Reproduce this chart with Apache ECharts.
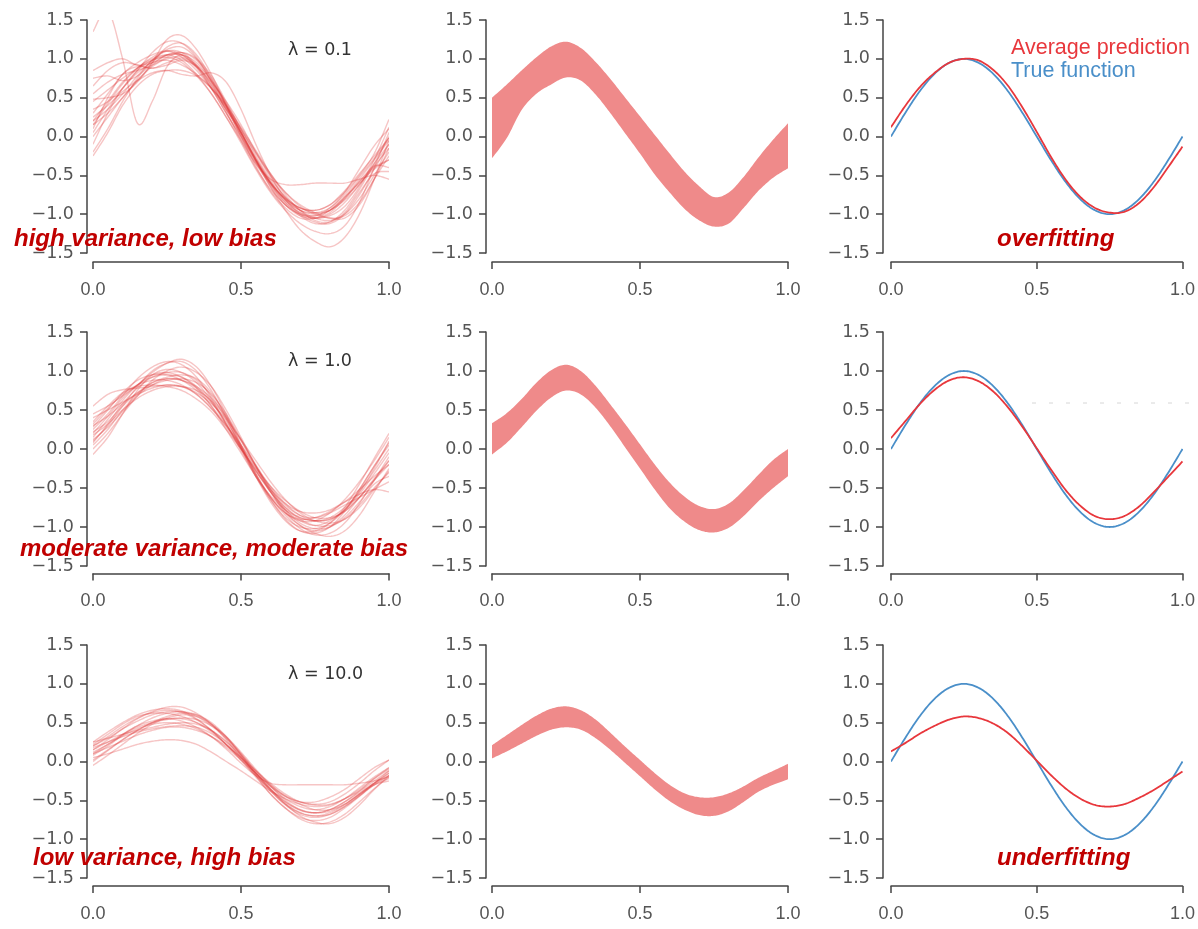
<!DOCTYPE html>
<html>
<head>
<meta charset="utf-8">
<script src="https://cdn.jsdelivr.net/npm/echarts@6/dist/echarts.min.js"></script>
<style>
  html, body { margin: 0; padding: 0; background: #fff; }
  #chart { width: 1198px; height: 929px; }
</style>
</head>
<body>
<div id="chart"></div>
<script>
// Sample positions along x (shared by every panel)
const xs = [0.00,0.05,0.10,0.15,0.20,0.25,0.30,0.35,0.40,0.45,0.50,
            0.55,0.60,0.65,0.70,0.75,0.80,0.85,0.90,0.95,1.00];
const xTickLabels = ['0.0', '0.5', '1.0'];
const yTickLabels = ['−1.5', '−1.0', '−0.5', '0.0', '0.5', '1.0', '1.5'];
const lambdaLabels = ['λ = 0.1', 'λ = 1.0', 'λ = 10.0'];
const rowNotes = ['high variance, low bias', 'moderate variance, moderate bias', 'low variance, high bias'];

// Individual fitted curves, lambda = 0.1
const fitsLambda01 = [
  [0.20,0.45,0.70,0.88,1.02,1.10,1.05,0.88,0.62,0.30,-0.02,-0.35,-0.62,-0.85,-0.98,-1.02,-0.95,-0.78,-0.55,-0.30,-0.05],
  [1.35,1.62,1.00,0.17,0.45,0.90,1.05,0.90,0.62,0.30,0.00,-0.32,-0.60,-0.82,-0.95,-0.98,-0.92,-0.75,-0.52,-0.28,-0.02],
  [0.85,0.95,1.00,0.92,0.95,1.05,1.05,0.90,0.65,0.35,0.05,-0.28,-0.58,-0.82,-0.98,-1.05,-1.00,-0.85,-0.62,-0.35,-0.10],
  [0.75,0.78,0.72,0.78,0.95,1.15,1.20,1.05,0.75,0.40,0.05,-0.30,-0.60,-0.80,-0.92,-0.95,-0.88,-0.70,-0.48,-0.25,-0.02],
  [0.65,0.85,0.95,0.92,0.88,0.95,1.00,0.90,0.70,0.45,0.15,-0.20,-0.52,-0.78,-0.95,-1.05,-1.08,-1.00,-0.80,-0.50,-0.20],
  [0.48,0.50,0.55,0.70,0.95,1.25,1.30,1.12,0.80,0.40,0.00,-0.38,-0.70,-0.92,-1.05,-1.05,-0.95,-0.78,-0.60,-0.42,-0.30],
  [0.30,0.55,0.80,0.95,1.05,1.10,1.02,0.85,0.62,0.35,0.08,-0.22,-0.50,-0.72,-0.88,-0.98,-1.05,-1.05,-0.88,-0.55,-0.15],
  [0.20,0.35,0.55,0.78,0.98,1.12,1.15,1.00,0.70,0.32,-0.05,-0.40,-0.68,-0.88,-1.00,-1.05,-1.02,-0.90,-0.65,-0.30,0.12],
  [0.10,0.50,0.80,0.90,0.88,0.92,0.98,0.90,0.68,0.38,0.05,-0.28,-0.58,-0.82,-1.00,-1.10,-1.12,-1.00,-0.75,-0.42,-0.10],
  [0.00,0.25,0.50,0.72,0.90,1.00,1.02,0.92,0.72,0.42,0.10,-0.25,-0.55,-0.78,-0.92,-0.98,-0.95,-0.82,-0.62,-0.38,-0.15],
  [-0.10,0.30,0.62,0.85,0.98,1.02,0.95,0.78,0.55,0.25,-0.08,-0.42,-0.72,-0.95,-1.12,-1.22,-1.25,-1.15,-0.85,-0.40,0.05],
  [-0.20,0.10,0.45,0.75,0.98,1.10,1.08,0.92,0.66,0.35,0.02,-0.30,-0.60,-0.85,-1.02,-1.12,-1.10,-0.95,-0.68,-0.35,0.00],
  [-0.25,0.05,0.40,0.65,0.80,0.85,0.85,0.78,0.62,0.38,0.10,-0.20,-0.48,-0.72,-0.90,-1.00,-1.05,-1.02,-0.85,-0.55,-0.25],
  [0.25,0.40,0.58,0.72,0.82,0.85,0.80,0.78,0.82,0.70,0.35,-0.10,-0.50,-0.80,-0.95,-1.00,-0.95,-0.80,-0.58,-0.38,-0.40],
  [0.45,0.60,0.75,0.88,0.98,1.05,1.05,0.95,0.72,0.40,0.05,-0.30,-0.65,-0.95,-1.20,-1.35,-1.42,-1.30,-1.00,-0.55,-0.05],
  [0.15,0.42,0.68,0.88,1.00,1.05,0.98,0.80,0.55,0.25,-0.05,-0.35,-0.55,-0.62,-0.62,-0.60,-0.60,-0.60,-0.55,-0.50,-0.55],
  [0.35,0.45,0.62,0.85,1.08,1.22,1.20,1.02,0.72,0.38,0.02,-0.32,-0.60,-0.80,-0.92,-0.95,-0.88,-0.72,-0.50,-0.22,0.22],
  [0.05,0.35,0.62,0.82,0.95,0.98,0.92,0.80,0.62,0.40,0.12,-0.18,-0.48,-0.75,-0.95,-1.08,-1.10,-0.98,-0.72,-0.48,-0.45],
  [0.55,0.70,0.80,0.85,0.92,1.02,1.08,1.00,0.78,0.45,0.08,-0.30,-0.62,-0.88,-1.02,-1.05,-0.98,-0.80,-0.58,-0.40,-0.30],
  [0.15,0.30,0.50,0.72,0.92,1.05,1.08,0.98,0.75,0.42,0.05,-0.32,-0.65,-0.88,-1.00,-1.02,-0.92,-0.72,-0.42,-0.12,0.10]
];

// Individual fitted curves, lambda = 1.0
const fitsLambda1 = [
  [0.55,0.70,0.76,0.78,0.80,0.82,0.80,0.70,0.52,0.28,0.00,-0.28,-0.52,-0.70,-0.80,-0.82,-0.78,-0.68,-0.58,-0.52,-0.55],
  [0.35,0.55,0.72,0.80,0.82,0.80,0.75,0.64,0.48,0.25,0.00,-0.25,-0.48,-0.66,-0.80,-0.88,-0.88,-0.80,-0.62,-0.40,-0.15],
  [0.25,0.45,0.68,0.90,1.05,1.12,1.08,0.92,0.65,0.32,-0.02,-0.35,-0.62,-0.82,-0.92,-0.92,-0.82,-0.65,-0.42,-0.15,0.15],
  [0.10,0.30,0.55,0.80,1.00,1.10,1.12,1.00,0.75,0.40,0.02,-0.35,-0.65,-0.88,-1.00,-1.02,-0.95,-0.78,-0.52,-0.22,0.05],
  [0.20,0.42,0.65,0.82,0.92,0.95,0.92,0.80,0.60,0.32,0.02,-0.28,-0.55,-0.75,-0.88,-0.92,-0.90,-0.80,-0.62,-0.40,-0.20],
  [-0.07,0.15,0.45,0.75,0.95,1.02,0.98,0.85,0.62,0.32,0.00,-0.32,-0.62,-0.85,-1.02,-1.10,-1.08,-0.95,-0.70,-0.40,-0.10],
  [0.30,0.42,0.58,0.72,0.82,0.88,0.90,0.85,0.70,0.45,0.12,-0.22,-0.52,-0.75,-0.90,-0.98,-0.98,-0.90,-0.72,-0.50,-0.30],
  [0.15,0.38,0.62,0.82,0.95,0.98,0.92,0.78,0.55,0.25,-0.05,-0.35,-0.60,-0.78,-0.88,-0.92,-0.88,-0.75,-0.55,-0.28,0.00],
  [0.05,0.25,0.50,0.70,0.85,0.90,0.88,0.78,0.60,0.35,0.05,-0.25,-0.55,-0.80,-0.98,-1.08,-1.12,-1.05,-0.85,-0.55,-0.25],
  [0.40,0.50,0.60,0.70,0.78,0.82,0.80,0.72,0.58,0.38,0.12,-0.15,-0.42,-0.65,-0.82,-0.92,-0.95,-0.90,-0.75,-0.52,-0.28],
  [0.28,0.50,0.72,0.88,0.95,0.95,0.88,0.75,0.55,0.30,0.02,-0.28,-0.55,-0.78,-0.92,-0.98,-0.92,-0.78,-0.55,-0.25,0.10],
  [0.00,0.20,0.45,0.68,0.88,1.00,1.05,0.98,0.80,0.50,0.15,-0.22,-0.55,-0.82,-0.98,-1.05,-1.00,-0.85,-0.62,-0.38,-0.15],
  [0.12,0.28,0.48,0.68,0.82,0.90,0.88,0.80,0.65,0.42,0.12,-0.20,-0.50,-0.72,-0.85,-0.88,-0.82,-0.72,-0.62,-0.52,-0.42],
  [0.22,0.35,0.55,0.72,0.85,0.92,0.95,0.90,0.72,0.42,0.05,-0.32,-0.65,-0.90,-1.05,-1.08,-1.00,-0.80,-0.52,-0.22,0.08],
  [0.32,0.52,0.70,0.82,0.88,0.88,0.82,0.70,0.52,0.30,0.05,-0.22,-0.48,-0.70,-0.85,-0.92,-0.90,-0.78,-0.58,-0.32,-0.05],
  [0.45,0.55,0.68,0.82,0.98,1.10,1.15,1.05,0.80,0.45,0.05,-0.32,-0.62,-0.82,-0.90,-0.88,-0.80,-0.68,-0.52,-0.35,-0.20],
  [0.18,0.32,0.50,0.65,0.75,0.80,0.80,0.75,0.62,0.40,0.10,-0.22,-0.52,-0.78,-0.95,-1.02,-1.00,-0.88,-0.68,-0.45,-0.35],
  [0.08,0.32,0.58,0.78,0.92,0.98,0.98,0.88,0.68,0.38,0.02,-0.35,-0.68,-0.92,-1.05,-1.05,-0.95,-0.75,-0.45,-0.12,0.20]
];

// Individual fitted curves, lambda = 10.0
const fitsLambda10 = [
  [0.25,0.38,0.50,0.60,0.66,0.68,0.65,0.55,0.40,0.22,0.02,-0.18,-0.36,-0.52,-0.62,-0.66,-0.62,-0.52,-0.38,-0.22,-0.08],
  [0.20,0.32,0.45,0.56,0.64,0.70,0.70,0.62,0.48,0.28,0.05,-0.18,-0.38,-0.55,-0.66,-0.70,-0.66,-0.56,-0.42,-0.28,-0.15],
  [0.05,0.10,0.16,0.22,0.26,0.28,0.27,0.22,0.12,0.00,-0.12,-0.25,-0.38,-0.48,-0.55,-0.58,-0.56,-0.48,-0.38,-0.25,-0.12],
  [0.10,0.22,0.35,0.46,0.52,0.55,0.52,0.44,0.32,0.16,-0.02,-0.18,-0.28,-0.30,-0.30,-0.30,-0.30,-0.30,-0.28,-0.25,-0.20],
  [0.15,0.28,0.42,0.55,0.63,0.66,0.63,0.54,0.40,0.22,0.02,-0.20,-0.42,-0.60,-0.74,-0.80,-0.78,-0.68,-0.52,-0.35,-0.20],
  [0.00,0.14,0.28,0.40,0.50,0.55,0.55,0.50,0.40,0.25,0.06,-0.15,-0.36,-0.55,-0.70,-0.78,-0.80,-0.72,-0.56,-0.36,-0.18],
  [0.18,0.25,0.32,0.38,0.42,0.45,0.46,0.44,0.36,0.22,0.04,-0.15,-0.32,-0.45,-0.52,-0.55,-0.52,-0.42,-0.28,-0.12,0.02],
  [0.22,0.35,0.48,0.58,0.62,0.62,0.58,0.50,0.38,0.22,0.05,-0.15,-0.35,-0.52,-0.63,-0.66,-0.62,-0.52,-0.40,-0.28,-0.18],
  [0.12,0.22,0.33,0.42,0.48,0.50,0.48,0.42,0.32,0.18,0.02,-0.15,-0.32,-0.48,-0.58,-0.62,-0.58,-0.48,-0.34,-0.20,-0.08],
  [-0.05,0.08,0.22,0.36,0.48,0.56,0.60,0.58,0.48,0.32,0.10,-0.14,-0.36,-0.54,-0.66,-0.70,-0.68,-0.58,-0.44,-0.28,-0.12],
  [0.08,0.20,0.34,0.46,0.56,0.62,0.64,0.60,0.48,0.30,0.08,-0.16,-0.38,-0.56,-0.68,-0.72,-0.68,-0.58,-0.44,-0.30,-0.18],
  [0.25,0.30,0.35,0.40,0.44,0.48,0.50,0.48,0.40,0.26,0.08,-0.12,-0.30,-0.44,-0.52,-0.52,-0.46,-0.36,-0.22,-0.08,0.02],
  [0.02,0.15,0.28,0.40,0.50,0.58,0.62,0.60,0.50,0.32,0.08,-0.18,-0.42,-0.60,-0.72,-0.76,-0.72,-0.60,-0.45,-0.30,-0.22],
  [0.15,0.25,0.35,0.44,0.50,0.54,0.56,0.54,0.46,0.32,0.12,-0.10,-0.30,-0.45,-0.55,-0.62,-0.62,-0.55,-0.42,-0.30,-0.25],
  [0.20,0.30,0.42,0.52,0.60,0.64,0.64,0.58,0.46,0.30,0.10,-0.12,-0.32,-0.50,-0.62,-0.66,-0.64,-0.55,-0.42,-0.28,-0.15],
  [0.10,0.18,0.26,0.34,0.40,0.44,0.44,0.40,0.32,0.20,0.05,-0.12,-0.28,-0.42,-0.52,-0.56,-0.55,-0.48,-0.36,-0.22,-0.10]
];

// Spread of the fits: upper and lower envelopes per lambda
const bandUpper01 = [0.50,0.67,0.85,1.02,1.16,1.22,1.14,0.96,0.74,0.50,0.26,0.02,-0.22,-0.45,-0.64,-0.78,-0.72,-0.52,-0.27,-0.04,0.17];
const bandLower01 = [-0.28,-0.02,0.34,0.55,0.67,0.76,0.72,0.54,0.30,0.04,-0.22,-0.49,-0.72,-0.93,-1.08,-1.16,-1.12,-0.92,-0.70,-0.53,-0.41];
const bandUpper1  = [0.33,0.46,0.64,0.85,1.01,1.08,1.00,0.81,0.57,0.32,0.06,-0.20,-0.43,-0.61,-0.73,-0.77,-0.70,-0.53,-0.33,-0.14,0.00];
const bandLower1  = [-0.07,0.08,0.28,0.49,0.66,0.75,0.70,0.53,0.29,0.02,-0.25,-0.52,-0.76,-0.93,-1.04,-1.07,-1.01,-0.86,-0.67,-0.50,-0.35];
const bandUpper10 = [0.21,0.34,0.47,0.59,0.68,0.71,0.66,0.54,0.37,0.19,0.02,-0.15,-0.30,-0.41,-0.46,-0.46,-0.41,-0.32,-0.21,-0.12,-0.03];
const bandLower10 = [0.04,0.13,0.23,0.33,0.41,0.44,0.41,0.30,0.15,-0.02,-0.19,-0.36,-0.51,-0.62,-0.69,-0.70,-0.64,-0.52,-0.39,-0.30,-0.23];

// Average prediction per lambda and the true function
const avgPred01 = [0.12,0.40,0.64,0.82,0.95,1.00,0.98,0.86,0.66,0.38,0.06,-0.27,-0.56,-0.78,-0.92,-0.98,-0.97,-0.86,-0.66,-0.40,-0.13];
const avgPred1  = [0.14,0.36,0.58,0.76,0.88,0.92,0.87,0.74,0.54,0.29,0.01,-0.27,-0.53,-0.73,-0.86,-0.90,-0.86,-0.74,-0.56,-0.36,-0.16];
const avgPred10 = [0.13,0.24,0.36,0.46,0.54,0.58,0.56,0.49,0.37,0.20,0.01,-0.18,-0.35,-0.48,-0.56,-0.58,-0.55,-0.47,-0.37,-0.25,-0.13];
const trueFunction = [0.00,0.31,0.59,0.81,0.95,1.00,0.95,0.81,0.59,0.31,0.00,-0.31,-0.59,-0.81,-0.95,-1.00,-0.95,-0.81,-0.59,-0.31,0.00];

const fitsByRow = [fitsLambda01, fitsLambda1, fitsLambda10];
const upperByRow = [bandUpper01, bandUpper1, bandUpper10];
const lowerByRow = [bandLower01, bandLower1, bandLower10];
const avgByRow = [avgPred01, avgPred1, avgPred10];

// Panel layout (pixels)
const colLeft = [93, 492, 891];
const panelWidth = 296;
const rowTop = [20, 332, 645];
const rowHeight = [233, 234, 233];
const yAxisOffset = [6, 6, 8];
const xAxisOffset = [9, 7.5, 8];

const AXIS_COLOR = '#444';
const LABEL_COLOR = '#555';
const FIT_COLOR = 'rgba(222, 45, 45, 0.28)';
const BAND_COLOR = '#ef8a8a';
const AVG_COLOR = '#e8373c';
const TRUE_COLOR = '#4a8fc9';
const NOTE_COLOR = '#c00000';

// Catmull-Rom spline through pixel points, returned as a dense polyline
function spline(pts, steps) {
  const out = [];
  const n = pts.length;
  for (let i = 0; i < n - 1; i++) {
    const p0 = pts[Math.max(i - 1, 0)], p1 = pts[i], p2 = pts[i + 1], p3 = pts[Math.min(i + 2, n - 1)];
    for (let s = 0; s < steps; s++) {
      const t = s / steps, t2 = t * t, t3 = t2 * t;
      const f = k => 0.5 * (2 * p1[k] + (-p0[k] + p2[k]) * t +
        (2 * p0[k] - 5 * p1[k] + 4 * p2[k] - p3[k]) * t2 +
        (-p0[k] + 3 * p1[k] - 3 * p2[k] + p3[k]) * t3);
      out.push([f(0), f(1)]);
    }
  }
  out.push(pts[n - 1].slice());
  return out;
}

// A smooth curve through (xs, ys), placed with the panel's axes
function curveSeries(grid, ys, color, width) {
  const data = ys.map((y, i) => [xs[i], y]);
  return {
    type: 'custom', xAxisIndex: grid, yAxisIndex: grid, data: data,
    clip: true, silent: true, encode: { x: 0, y: 1 },
    renderItem(params, api) {
      if (params.dataIndex !== 0) return null;
      const pts = data.map(d => api.coord(d));
      return {
        type: 'polyline',
        shape: { points: spline(pts, 12) },
        style: { stroke: color, lineWidth: width, fill: null, lineJoin: 'round' }
      };
    }
  };
}

// A filled band between two smooth curves
function bandSeries(grid, lower, upper, color) {
  const data = xs.map((x, i) => [x, lower[i], upper[i]]);
  return {
    type: 'custom', xAxisIndex: grid, yAxisIndex: grid, data: data,
    clip: true, silent: true, encode: { x: 0, y: [1, 2] },
    renderItem(params, api) {
      if (params.dataIndex !== 0) return null;
      const top = spline(data.map(d => api.coord([d[0], d[2]])), 12);
      const bot = spline(data.map(d => api.coord([d[0], d[1]])), 12);
      return {
        type: 'polygon',
        shape: { points: top.concat(bot.reverse()) },
        style: { fill: color, stroke: null }
      };
    }
  };
}

const grids = [], xAxes = [], yAxes = [], series = [];

for (let r = 0; r < 3; r++) {
  for (let c = 0; c < 3; c++) {
    const g = r * 3 + c;
    grids.push({ left: colLeft[c], top: rowTop[r], width: panelWidth, height: rowHeight[r] });
    xAxes.push({
      gridIndex: g, type: 'value', min: 0, max: 1, interval: 0.5,
      position: 'bottom', offset: xAxisOffset[r],
      axisLine: { show: true, onZero: false, lineStyle: { color: AXIS_COLOR, width: 1.5 } },
      axisTick: { show: true, length: 7, lineStyle: { color: AXIS_COLOR, width: 1.5 } },
      axisLabel: {
        margin: 19, color: LABEL_COLOR, fontSize: 18, fontFamily: '"Liberation Sans", Arial, sans-serif',
        formatter: v => xTickLabels[Math.round(v / 0.5)]
      },
      splitLine: { show: false }
    });
    yAxes.push({
      gridIndex: g, type: 'value', min: -1.5, max: 1.5, interval: 0.5,
      position: 'left', offset: yAxisOffset[c],
      axisLine: { show: true, onZero: false, lineStyle: { color: AXIS_COLOR, width: 1.5 } },
      axisTick: { show: true, length: 7, lineStyle: { color: AXIS_COLOR, width: 1.5 } },
      axisLabel: {
        margin: 13, color: LABEL_COLOR, fontSize: 17.5, fontFamily: '"DejaVu Sans", sans-serif',
        formatter: v => yTickLabels[Math.round((v + 1.5) / 0.5)]
      },
      splitLine: { show: false }
    });
  }

  // Left column: every individual fit
  fitsByRow[r].forEach(curve => series.push(curveSeries(r * 3, curve, FIT_COLOR, 1.4)));

  // Middle column: shaded band between lower and upper envelopes
  series.push(bandSeries(r * 3 + 1, lowerByRow[r], upperByRow[r], BAND_COLOR));

  // Right column: true function and average prediction
  series.push(curveSeries(r * 3 + 2, trueFunction, TRUE_COLOR, 1.8));
  series.push(curveSeries(r * 3 + 2, avgByRow[r], AVG_COLOR, 1.8));
}

function textEl(x, y, text, font, fill) {
  return {
    type: 'text', x: x, y: y, z: 100, silent: true,
    style: { text: text, font: font, fill: fill,
             align: 'left', verticalAlign: 'middle',
             textAlign: 'left', textVerticalAlign: 'middle' }
  };
}

const noteFont = 'italic bold 24px "Liberation Sans", Arial, sans-serif';
const lambdaY = [50.5, 361.5, 674];
const noteY = [239, 549.5, 858];
const noteX = [14, 20, 33];

const graphics = [];
for (let r = 0; r < 3; r++) {
  graphics.push(textEl(288, lambdaY[r], lambdaLabels[r], '17.5px "DejaVu Sans", sans-serif', '#333'));
  graphics.push(textEl(noteX[r], noteY[r], rowNotes[r], noteFont, NOTE_COLOR));
}
graphics.push(textEl(997, 239.5, 'overfitting', noteFont, NOTE_COLOR));
graphics.push(textEl(997, 858, 'underfitting', noteFont, NOTE_COLOR));
graphics.push(textEl(1011, 48.5, 'Average prediction', '21.5px "Liberation Sans", Arial, sans-serif', AVG_COLOR));
graphics.push(textEl(1011, 71, 'True function', '21.5px "Liberation Sans", Arial, sans-serif', TRUE_COLOR));
// faint dashed rule in the middle-right panel
graphics.push({
  type: 'line', z: 1, silent: true,
  shape: { x1: 1032, y1: 403, x2: 1198, y2: 403 },
  style: { stroke: '#d6d6d6', lineWidth: 1, lineDash: [4, 13] }
});

const chart = echarts.init(document.getElementById('chart'), null, { renderer: 'canvas' });
chart.setOption({
  animation: false,
  backgroundColor: '#fff',
  grid: grids,
  xAxis: xAxes,
  yAxis: yAxes,
  series: series,
  graphic: { elements: graphics }
});
</script>
</body>
</html>
